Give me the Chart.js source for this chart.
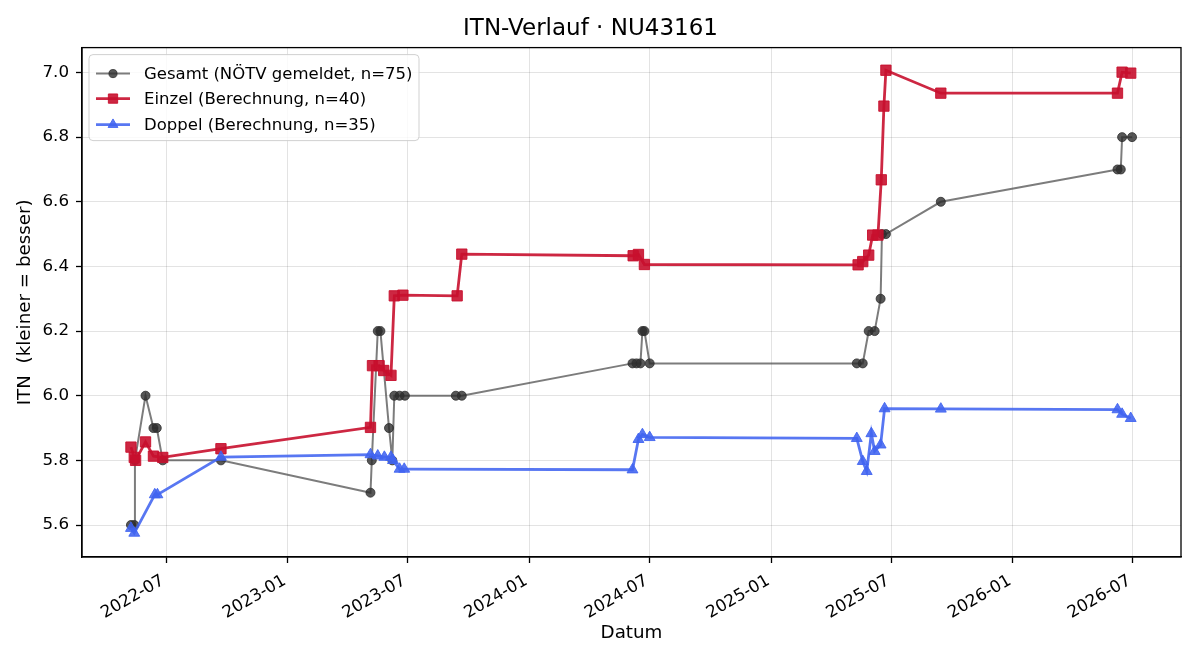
<!DOCTYPE html>
<html><head><meta charset="utf-8">
<script src="https://cdn.jsdelivr.net/npm/chart.js@4/dist/chart.umd.min.js"></script>
<style>html,body{margin:0;padding:0;background:#fff}#wrap{width:1200px;height:660px;position:relative}</style>
</head><body><div id="wrap"><canvas id="c" width="1200" height="660"></canvas></div>
<script>
// ---- data ----
const gesamtDates = ['2022-05-09','2022-05-14','2022-05-15','2022-05-31','2022-06-12','2022-06-17','2022-06-26','2022-09-22',
  '2023-05-06','2023-05-08','2023-05-17','2023-05-21','2023-06-03','2023-06-08','2023-06-11','2023-06-19','2023-06-27','2023-09-12','2023-09-21',
  '2024-06-05','2024-06-11','2024-06-17','2024-06-20','2024-06-23','2024-07-01',
  '2025-05-10','2025-05-19','2025-05-28','2025-06-06','2025-06-15','2025-06-17','2025-06-23','2025-09-14',
  '2026-06-08','2026-06-13','2026-06-15','2026-06-30'];
const gesamtValues = [5.6,5.6,5.8,6.0,5.9,5.9,5.8,5.8,
  5.7,5.8,6.2,6.2,5.9,5.8,6.0,6.0,6.0,6.0,6.0,
  6.1,6.1,6.1,6.2,6.2,6.1,
  6.1,6.1,6.2,6.2,6.3,6.5,6.5,6.6,
  6.7,6.7,6.8,6.8];

const einzelDates = ['2022-05-09','2022-05-14','2022-05-16','2022-05-31','2022-06-12','2022-06-26','2022-09-22',
  '2023-05-06','2023-05-09','2023-05-19','2023-05-26','2023-06-06','2023-06-11','2023-06-24','2023-09-14','2023-09-21',
  '2024-06-06','2024-06-14','2024-06-23',
  '2025-05-12','2025-05-19','2025-05-28','2025-06-03','2025-06-11','2025-06-16','2025-06-20','2025-06-23','2025-09-14',
  '2026-06-08','2026-06-15','2026-06-28'];
const einzelValues = [5.841,5.809,5.800,5.857,5.813,5.809,5.836,
  5.902,6.093,6.093,6.078,6.063,6.309,6.311,6.309,6.438,
  6.433,6.437,6.406,
  6.405,6.415,6.435,6.497,6.497,6.668,6.896,7.007,6.936,
  6.936,7.001,6.998];

const doppelDates = ['2022-05-09','2022-05-14','2022-06-14','2022-06-18','2022-09-22',
  '2023-05-06','2023-05-17','2023-05-27','2023-06-06','2023-06-09','2023-06-19','2023-06-26',
  '2024-06-05','2024-06-14','2024-06-20','2024-07-01',
  '2025-05-10','2025-05-19','2025-05-25','2025-06-01','2025-06-06','2025-06-15','2025-06-21','2025-09-14',
  '2026-06-08','2026-06-15','2026-06-28'];
const doppelValues = [5.590,5.575,5.694,5.694,5.810,
  5.818,5.814,5.810,5.810,5.800,5.773,5.773,
  5.771,5.865,5.880,5.871,
  5.868,5.797,5.766,5.883,5.828,5.848,5.960,5.959,
  5.957,5.943,5.930];

const xTickLabels = ['2022-07','2023-01','2023-07','2024-01','2024-07','2025-01','2025-07','2026-01','2026-07'];
const yTickValues = [5.6,5.8,6.0,6.2,6.4,6.6,6.8,7.0];
const seriesLabels = ['Gesamt (NÖTV gemeldet, n=75)','Einzel (Berechnung, n=40)','Doppel (Berechnung, n=35)'];

// ---- helpers ----
const toMs = s => { const p = s.split('-').map(Number); return Date.UTC(p[0], p[1]-1, p[2] || 1); };
const pts = (d, v) => d.map((s, i) => ({x: toMs(s), y: v[i]}));
const FONT = 'DejaVu Sans';

const frameAndLegend = {
  id: 'frameAndLegend',
  afterDraw(chart) {
    const {ctx, chartArea: a} = chart;
    ctx.save();
    ctx.strokeStyle = '#000'; ctx.lineWidth = 1.3;
    ctx.strokeRect(a.left, a.top, a.right - a.left, a.bottom - a.top);
    // legend
    const bx = a.left + 7, by = a.top + 7, bw = 330, bh = 86, r = 4;
    ctx.beginPath();
    ctx.moveTo(bx + r, by); ctx.lineTo(bx + bw - r, by); ctx.arcTo(bx + bw, by, bx + bw, by + r, r);
    ctx.lineTo(bx + bw, by + bh - r); ctx.arcTo(bx + bw, by + bh, bx + bw - r, by + bh, r);
    ctx.lineTo(bx + r, by + bh); ctx.arcTo(bx, by + bh, bx, by + bh - r, r);
    ctx.lineTo(bx, by + r); ctx.arcTo(bx, by, bx + r, by, r); ctx.closePath();
    ctx.fillStyle = 'rgba(255,255,255,0.8)'; ctx.fill();
    ctx.strokeStyle = 'rgba(204,204,204,0.9)'; ctx.lineWidth = 1; ctx.stroke();
    const rowY = [19, 44, 70];
    [0, 1, 2].forEach((di, k) => {
      const ds = chart.data.datasets[di];
      const y = by + rowY[k];
      ctx.beginPath(); ctx.moveTo(bx + 7, y); ctx.lineTo(bx + 41, y);
      ctx.strokeStyle = ds.borderColor; ctx.lineWidth = ds.borderWidth; ctx.stroke();
      ctx.fillStyle = ds.pointBackgroundColor; ctx.strokeStyle = ds.pointBorderColor; ctx.lineWidth = 1;
      Chart.helpers.drawPoint(ctx, {pointStyle: ds.pointStyle, radius: ds.pointRadius * 0.9, borderWidth: 1, rotation: 0}, bx + 24, y);
      ctx.fillStyle = '#000'; ctx.font = '16.5px "' + FONT + '"'; ctx.textBaseline = 'middle'; ctx.textAlign = 'left';
      ctx.fillText(ds.label, bx + 55, y + 1);
    });
    ctx.restore();
  }
};

new Chart(document.getElementById('c'), {
  type: 'line',
  data: {
    datasets: [
      {label: seriesLabels[0], data: pts(gesamtDates, gesamtValues), order: 3,
       borderColor: 'rgba(68,68,68,0.7)', borderWidth: 2, pointStyle: 'circle', pointRadius: 4.5,
       pointBackgroundColor: 'rgba(45,45,45,0.8)', pointBorderColor: 'rgba(45,45,45,0.8)', pointBorderWidth: 1},
      {label: seriesLabels[1], data: pts(einzelDates, einzelValues), order: 2,
       borderColor: 'rgba(200,16,46,0.9)', borderWidth: 2.8, pointStyle: 'rect', pointRadius: 7.3,
       pointBackgroundColor: 'rgba(200,16,46,0.9)', pointBorderColor: 'rgba(200,16,46,0.9)', pointBorderWidth: 1},
      {label: seriesLabels[2], data: pts(doppelDates, doppelValues), order: 1,
       borderColor: 'rgba(65,100,240,0.88)', borderWidth: 2.8, pointStyle: 'triangle', pointRadius: 6.3,
       pointBackgroundColor: 'rgba(65,100,240,0.88)', pointBorderColor: 'rgba(65,100,240,0.88)', pointBorderWidth: 1}
    ]
  },
  options: {
    responsive: false, animation: false, events: [],
    layout: {padding: {right: 19, top: 0, left: 0, bottom: 0}},
    elements: {line: {tension: 0}},
    plugins: {
      legend: {display: false}, tooltip: {enabled: false},
      title: {display: true, text: 'ITN-Verlauf · NU43161', color: '#000',
              font: {family: FONT, size: 23, weight: 'normal', lineHeight: 1.2}, padding: {top: 15, bottom: 5}}
    },
    scales: {
      x: {
        type: 'linear', min: toMs('2022-02-24'), max: toMs('2026-09-12'),
        afterBuildTicks: s => { s.ticks = xTickLabels.map(l => ({value: toMs(l + '-01')})); },
        afterFit: s => { s.height = 103; },
        ticks: {autoSkip: false, minRotation: 30, maxRotation: 30, padding: 8, labelOffset: -3, color: '#000',
                font: {family: FONT, size: 16.7},
                callback: v => { const i = xTickLabels.findIndex(l => toMs(l + '-01') === v); return i >= 0 ? xTickLabels[i] : ''; }},
        grid: {color: 'rgba(0,0,0,0.11)', lineWidth: 1, tickLength: 6, tickColor: '#000', tickWidth: 1.3},
        border: {display: true, color: '#000', width: 1.3},
        title: {display: true, text: 'Datum', color: '#000', font: {family: FONT, size: 18.3}, padding: {top: 0, bottom: 16}}
      },
      y: {
        type: 'linear', min: 5.501, max: 7.077,
        afterBuildTicks: s => { s.ticks = yTickValues.map(v => ({value: v})); },
        afterFit: s => { s.width = 82; },
        ticks: {padding: 7, color: '#000', font: {family: FONT, size: 16.7}, callback: v => Number(v).toFixed(1)},
        grid: {color: 'rgba(0,0,0,0.11)', lineWidth: 1, tickLength: 6, tickColor: '#000', tickWidth: 1.3},
        border: {display: true, color: '#000', width: 1.3},
        title: {display: true, text: 'ITN  (kleiner = besser)', color: '#000', font: {family: FONT, size: 18.3}, padding: {top: 14, bottom: 0}}
      }
    }
  },
  plugins: [frameAndLegend]
});
</script></body></html>
